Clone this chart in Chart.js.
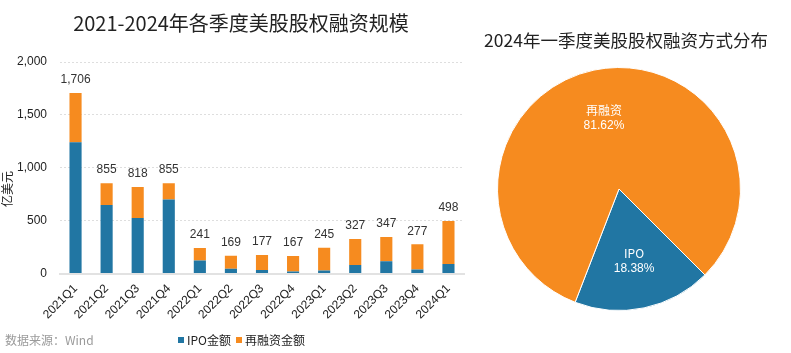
<!DOCTYPE html>
<html>
<head>
<meta charset="utf-8">
<script src="https://cdn.jsdelivr.net/npm/chart.js@4/dist/chart.umd.min.js"></script>
<style>
  body { margin: 0; background: #fff; }
  #wrap { position: relative; width: 791px; height: 353px; overflow: hidden; }
  .title { position: absolute; font-family: "Noto Sans CJK SC", sans-serif; color: #222; white-space: nowrap; }
  #t1 { left: 6px; width: 470px; top: 8px; text-align: center; font-size: 20px; }
  #t2 { left: 470px; width: 312px; top: 27px; text-align: center; font-size: 17.5px; }
  #src { position: absolute; left: 5px; top: 331px; font: 12px "Noto Sans CJK SC", sans-serif; color: #9a9a9a; }
  #legend { position: absolute; left: 178px; top: 331px; font: 12px "Noto Sans CJK SC", sans-serif; color: #222; display: flex; align-items: center; white-space: nowrap; }
  #legend i { display: inline-block; width: 6px; height: 6px; margin-right: 3px; }
  #legend span { margin-right: 5px; }
  #c1 { position: absolute; left: 0; top: 0; }
  #c2 { position: absolute; left: 470px; top: 0; }
</style>
</head>
<body>
<div id="wrap">
  <canvas id="c1" width="470" height="353"></canvas>
  <canvas id="c2" width="321" height="353"></canvas>
  <div class="title" id="t1">2021-2024年各季度美股股权融资规模</div>
  <div class="title" id="t2">2024年一季度美股股权融资方式分布</div>
  <div id="src">数据来源：Wind</div>
  <div id="legend"></div>
</div>
<script>
const quarters = ["2021Q1", "2021Q2", "2021Q3", "2021Q4", "2022Q1", "2022Q2", "2022Q3",
  "2022Q4", "2023Q1", "2023Q2", "2023Q3", "2023Q4", "2024Q1"];
const totals = [1706, 855, 818, 855, 241, 169, 177, 167, 245, 327, 347, 277, 498];
const ipo = [1242, 648, 526, 701, 125, 47, 35, 19, 30, 82, 116, 38, 92];
const refin = [464, 207, 292, 154, 116, 122, 142, 148, 215, 245, 231, 239, 406];

const pieLabels = ["IPO", "再融资"];
const pieShares = [18.38, 81.62];

const BLUE = "#2176a3";
const ORANGE = "#f68b1f";
const numFont = "Liberation Sans, Arial, sans-serif";

// 柱顶总额标签 + 纵轴单位
const totalLabels = {
  id: "totalLabels",
  afterDatasetsDraw(chart) {
    const meta = chart.getDatasetMeta(1);
    const ctx = chart.ctx;
    ctx.save();
    ctx.font = "12px " + numFont;
    ctx.fillStyle = "#333";
    ctx.textAlign = "center";
    ctx.textBaseline = "bottom";
    meta.data.forEach((bar, i) => {
      ctx.fillText(totals[i].toLocaleString("en-US"), bar.x, bar.y - 7);
    });
    const yScale = chart.scales.y;
    ctx.translate(7, yScale.getPixelForValue(800));
    ctx.rotate(-Math.PI / 2);
    ctx.textBaseline = "middle";
    ctx.font = "12px Noto Sans CJK SC";
    ctx.fillStyle = "#222";
    ctx.fillText("亿美元", 0, 0);
    ctx.restore();
  }
};

const barChart = new Chart(document.getElementById("c1"), {
  type: "bar",
  data: {
    labels: quarters,
    datasets: [
      { label: "IPO金额", data: ipo, backgroundColor: BLUE },
      { label: "再融资金额", data: refin, backgroundColor: ORANGE }
    ]
  },
  options: {
    responsive: false,
    animation: false,
    datasets: { bar: { barPercentage: 0.78, categoryPercentage: 0.5 } },
    layout: { padding: { top: 62, right: 6, left: 0, bottom: 31 } },
    plugins: { legend: { display: false }, tooltip: { enabled: false } },
    scales: {
      x: {
        stacked: true,
        grid: { display: false },
        border: { display: true, color: "#e2e2e2", width: 2 },
        ticks: { color: "#222", font: { size: 12, family: numFont }, minRotation: 45, maxRotation: 45, padding: 0 }
      },
      y: {
        stacked: true,
        min: 0, max: 2000,
        afterFit: s => { s.width = 60; },
        ticks: {
          stepSize: 500, color: "#222", padding: 13,
          font: { size: 12, family: numFont },
          callback: v => v.toLocaleString("en-US")
        },
        grid: { color: "#dedede", drawTicks: false },
        border: { display: false, dash: [2, 2] }
      }
    }
  },
  plugins: [totalLabels]
});

// 图例（底部居中）
document.getElementById("legend").innerHTML = barChart.data.datasets
  .map(d => `<i style="background:${d.backgroundColor}"></i><span>${d.label}</span>`).join("");

// 饼图扇区标签
const sliceLabels = {
  id: "sliceLabels",
  afterDatasetsDraw(chart) {
    const meta = chart.getDatasetMeta(0);
    const ctx = chart.ctx;
    ctx.save();
    ctx.fillStyle = "#fff";
    ctx.textAlign = "center";
    ctx.textBaseline = "middle";
    meta.data.forEach((arc, i) => {
      const mid = (arc.startAngle + arc.endAngle) / 2;
      const r = arc.outerRadius * 0.6;
      const x = arc.x + Math.cos(mid) * r;
      const y = arc.y + Math.sin(mid) * r;
      ctx.font = "12px Noto Sans CJK SC";
      ctx.fillText(pieLabels[i], x, y - 7);
      ctx.font = "12px " + numFont;
      ctx.fillText(pieShares[i].toFixed(2) + "%", x, y + 8);
    });
    ctx.restore();
  }
};

new Chart(document.getElementById("c2"), {
  type: "pie",
  data: {
    labels: pieLabels,
    datasets: [{ data: pieShares, backgroundColor: [BLUE, ORANGE], borderColor: "#fff", borderWidth: 1 }]
  },
  options: {
    responsive: false,
    animation: false,
    rotation: 135,
    layout: { padding: { top: 67, bottom: 42, left: 27, right: 50 } },
    plugins: { legend: { display: false }, tooltip: { enabled: false } }
  },
  plugins: [sliceLabels]
});
</script>
</body>
</html>
